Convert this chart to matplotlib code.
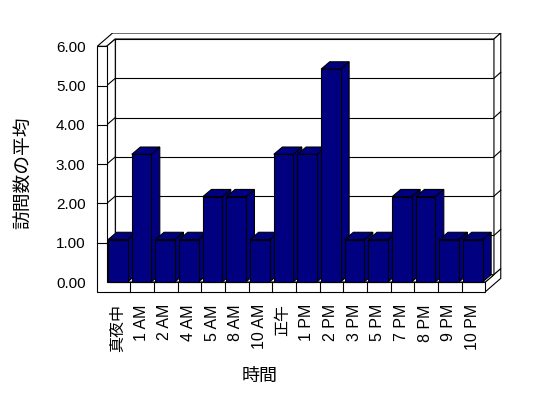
import matplotlib

matplotlib.use("Agg")
import matplotlib.pyplot as plt  # noqa: E402
from matplotlib.patches import Polygon  # noqa: E402

plt.rcParams["font.family"] = ["Liberation Sans", "Noto Sans CJK JP", "DejaVu Sans"]

categories = ["真夜中", "1 AM", "2 AM", "4 AM", "5 AM", "8 AM", "10 AM", "正午",
              "1 PM", "2 PM", "3 PM", "5 PM", "7 PM", "8 PM", "9 PM", "10 PM"]
avg_visits = [1.08, 3.25, 1.08, 1.08, 2.17, 2.17, 1.08, 3.25,
              3.25, 5.42, 1.08, 1.08, 2.17, 2.17, 1.08, 1.08]
y_ticks = [0, 1, 2, 3, 4, 5, 6]
y_tick_labels = ["0.00", "1.00", "2.00", "3.00", "4.00", "5.00", "6.00"]

# oblique "3D" look: depth offsets in data units
DX, DY = 0.363, 0.186        # front plane -> back wall face
TX, TY = 0.65, 0.339         # front plane -> back of wall slab
WALL_W = 0.4                 # left wall thickness
FLOOR_H = 0.247              # floor thickness
BAR_COLOR = "#000080"
LW = 0.8

n = len(categories)
ymax = y_ticks[-1]

fig = plt.figure(figsize=(5.48, 3.98), dpi=100)
ax = fig.add_axes([0.1688, 0.2569, 0.7558, 0.6613])
ax.set_xlim(-0.6, 16.9)
ax.set_ylim(-0.35, 6.35)


def poly(pts, z, fc="white"):
    ax.add_patch(Polygon(pts, closed=True, fc=fc, ec="black", lw=LW, zorder=z))


# back wall face + gridlines
poly([(DX, DY), (n + DX, DY), (n + DX, ymax + DY), (DX, ymax + DY)], 1)
for v in y_ticks[1:-1]:
    ax.plot([DX, n + DX], [v + DY, v + DY], color="black", lw=LW, zorder=1.1)

# top of the L-shaped wall
poly([(-WALL_W, ymax), (0, ymax), (DX, ymax + DY), (n + DX, ymax + DY),
      (n + TX, ymax + TY), (-WALL_W + TX, ymax + TY)], 1.2)
# right side of back wall and floor
poly([(n + DX, DY), (n + DX, ymax + DY), (n + TX, ymax + TY), (n + TX, TY)], 1.2)
for v in y_ticks[1:-1]:
    ax.plot([n + DX, n + TX], [v + DY, v + TY], color="black", lw=LW, zorder=1.25)
poly([(n, -FLOOR_H), (n + TX, -FLOOR_H + TY), (n + TX, TY), (n, 0)], 1.3)

# inner face of left wall
poly([(0, 0), (0, ymax), (DX, ymax + DY), (DX, DY)], 1.4)
for v in y_ticks[1:-1]:
    ax.plot([0, DX], [v, v + DY], color="black", lw=LW, zorder=1.5)

# floor top
poly([(0, 0), (n, 0), (n + DX, DY), (DX, DY)], 1.6)

# front face of left wall + floor
poly([(-WALL_W, -FLOOR_H), (n, -FLOOR_H), (n, 0), (0, 0), (0, ymax), (-WALL_W, ymax)], 1.7)
for i in range(1, n):
    ax.plot([i, i], [-FLOOR_H, 0], color="black", lw=LW, zorder=1.8)
for v in y_ticks[1:-1]:
    ax.plot([-WALL_W, 0], [v, v], color="black", lw=LW, zorder=1.8)

# bars
bx = [i + 0.06 for i in range(n)]
bw = 0.82
bars = ax.bar(bx, avg_visits, width=bw, align="edge", color=BAR_COLOR,
              edgecolor="black", linewidth=LW)
for i, (patch, x0, v) in enumerate(zip(bars, bx, avg_visits)):
    z = 3 + i * 0.01
    x1 = x0 + bw
    poly([(x1, 0), (x1, v), (x1 + DX, v + DY), (x1 + DX, DY)], z, BAR_COLOR)
    poly([(x0, v), (x1, v), (x1 + DX, v + DY), (x0 + DX, v + DY)], z, BAR_COLOR)
    patch.set_zorder(z + 0.005)

for s in ax.spines.values():
    s.set_visible(False)
ax.set_yticks(y_ticks)
ax.set_yticklabels(y_tick_labels, fontsize=11)
ax.set_xticks([i + 0.45 for i in range(n)])
ax.set_xticklabels(categories, rotation=90, fontsize=11.5)
ax.tick_params(axis="y", length=0, pad=5)
ax.tick_params(axis="x", length=0, pad=6)

ax.set_ylabel("訪問数の平均", fontsize=13.5)
ax.yaxis.set_label_coords(-0.165, 0.466)
ax.yaxis.label.set_va("center")
ax.set_xlabel("時間", fontsize=13)
ax.xaxis.set_label_coords(0.404, -0.308)
ax.xaxis.label.set_va("center")

fig.savefig("out.png", dpi=100, facecolor="white")
